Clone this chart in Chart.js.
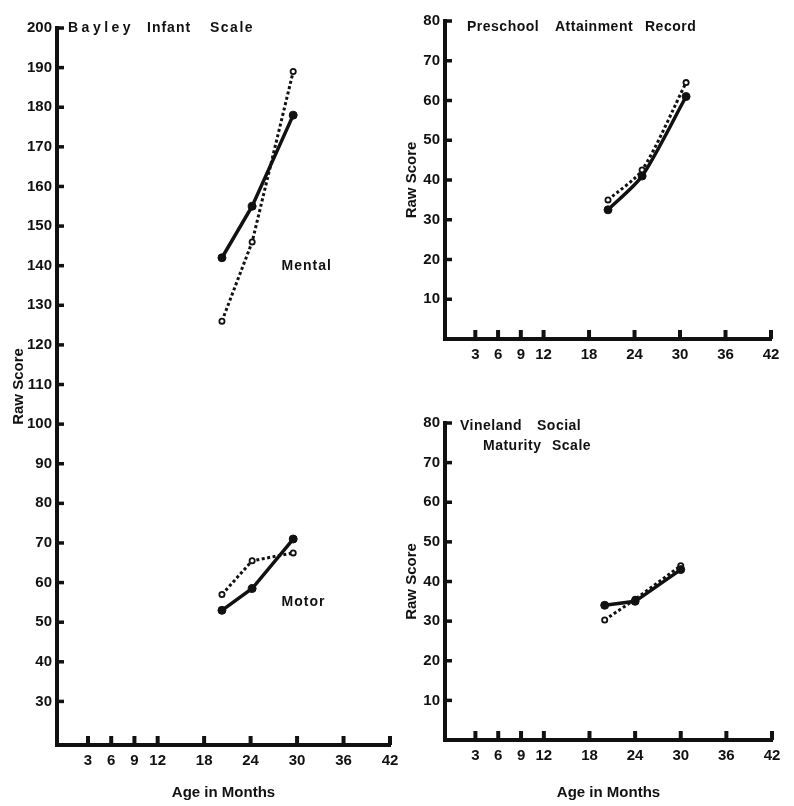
<!DOCTYPE html>
<html lang="en">
<head>
<meta charset="UTF-8">
<title>Raw Scores by Age in Months</title>
<script src="https://cdn.jsdelivr.net/npm/chart.js"></script>
<style>
  body { margin: 0; background: #fff; }
  #wrap { position: relative; width: 794px; height: 806px; }
  canvas { position: absolute; }
</style>
</head>
<body>
<div id="wrap">
  <canvas id="bayley" width="400" height="806" style="left:0;top:0"></canvas>
  <canvas id="preschool" width="394" height="380" style="left:400px;top:0"></canvas>
  <canvas id="vineland" width="394" height="416" style="left:400px;top:390px"></canvas>
</div>

<script>
// Tick labels
const ageTicks = [3, 6, 9, 12, 18, 24, 30, 36, 42];
const bayleyTicks = [30, 40, 50, 60, 70, 80, 90, 100, 110, 120, 130, 140, 150, 160, 170, 180, 190, 200];
const scoreTicks = [10, 20, 30, 40, 50, 60, 70, 80];

// Bayley Infant Scale (age in months, raw score)
const bayleyAges = [20.3, 24.2, 29.5];
const mentalSolid = [142, 155, 178];
const mentalDotted = [126, 146, 189];
const motorSolid = [53, 58.5, 71];
const motorDotted = [57, 65.5, 67.5];

// Preschool Attainment Record
const preschoolAges = [20.5, 25, 30.8];
const preschoolSolid = [32.5, 41, 61];
const preschoolDotted = [35, 42.5, 64.5];

// Vineland Social Maturity Scale
const vinelandAges = [20, 24, 30];
const vinelandSolid = [34, 35, 43];
const vinelandDotted = [30.3, 35.5, 44];

const ink = '#111';
const FONT = '"Liberation Sans", Arial, sans-serif';

function pts(ages, vals) {
    return ages.map((a, i) => ({ x: a, y: vals[i] }));
}

function solid(ages, vals, tension) {
    return {
        data: pts(ages, vals),
        borderColor: ink, borderWidth: 3.5, tension: tension || 0,
        pointRadius: 4, pointBackgroundColor: ink, pointBorderColor: ink, pointBorderWidth: 1
    };
}

function dotted(ages, vals, tension) {
    return {
        data: pts(ages, vals),
        borderColor: ink, borderWidth: 3, borderDash: [3, 2.5], tension: tension || 0,
        pointRadius: 2.6, pointBackgroundColor: '#fff', pointBorderColor: ink, pointBorderWidth: 1.8
    };
}

// inward tick marks plus free text (titles, curve names)
const panelArt = {
    id: 'panelArt',
    afterDraw(chart, args, opts) {
        const { ctx, chartArea: area, scales: { x, y } } = chart;
        ctx.save();
        ctx.strokeStyle = ink;
        ctx.lineCap = 'butt';
        ctx.lineWidth = 4;
        x.ticks.forEach(t => {
            const px = x.getPixelForValue(t.value);
            ctx.beginPath();
            ctx.moveTo(px, area.bottom);
            ctx.lineTo(px, area.bottom - 9);
            ctx.stroke();
        });
        ctx.lineWidth = 3.5;
        y.ticks.forEach(t => {
            const py = y.getPixelForValue(t.value);
            ctx.beginPath();
            ctx.moveTo(area.left, py);
            ctx.lineTo(area.left + 7, py);
            ctx.stroke();
        });
        ctx.fillStyle = ink;
        ctx.textBaseline = 'middle';
        ctx.textAlign = 'left';
        (opts.notes || []).forEach(n => {
            ctx.font = n.font || ('bold 14px ' + FONT);
            ctx.letterSpacing = n.spacing || '0.5px';
            const px = n.data ? x.getPixelForValue(n.x) : area.left + n.x;
            const py = n.data ? y.getPixelForValue(n.y) : area.top + n.y;
            ctx.fillText(n.text, px, py);
        });
        ctx.restore();
    }
};

function makeChart(id, cfg) {
    return new Chart(document.getElementById(id), {
        type: 'line',
        data: { datasets: cfg.datasets },
        options: {
            responsive: false,
            animation: false,
            layout: { padding: cfg.padding },
            plugins: {
                legend: { display: false },
                tooltip: { enabled: false },
                panelArt: { notes: cfg.notes }
            },
            scales: {
                x: {
                    type: 'linear', min: -1, max: 42,
                    afterBuildTicks: s => { s.ticks = ageTicks.map(v => ({ value: v })); },
                    afterFit: s => { s.height = cfg.xHeight; s.paddingRight = cfg.xPadRight; },
                    grid: { display: false, drawTicks: false },
                    border: { display: true, color: ink, width: 4 },
                    ticks: { color: ink, padding: 7, font: { family: FONT, size: 15, weight: 'bold' } },
                    title: {
                        display: !!cfg.xTitle, text: cfg.xTitle, color: ink,
                        padding: { top: 8 },
                        font: { family: FONT, size: 15, weight: 'bold' }
                    }
                },
                y: {
                    type: 'linear', min: cfg.yMin, max: cfg.yMax,
                    afterBuildTicks: s => { s.ticks = cfg.yTicks.map(v => ({ value: v })); },
                    afterFit: s => { s.width = cfg.yWidth; },
                    grid: { display: false, drawTicks: false },
                    border: { display: true, color: ink, width: 4 },
                    ticks: { color: ink, padding: 5, font: { family: FONT, size: 15, weight: 'bold' } },
                    title: {
                        display: true, text: 'Raw Score', color: ink,
                        padding: { top: cfg.yTitlePad, bottom: 0 },
                        font: { family: FONT, size: 15, weight: 'bold' }
                    }
                }
            }
        },
        plugins: [panelArt]
    });
}

makeChart('bayley', {
    datasets: [
        solid(bayleyAges, mentalSolid),
        dotted(bayleyAges, mentalDotted),
        solid(bayleyAges, motorSolid),
        dotted(bayleyAges, motorDotted)
    ],
    padding: { top: 28, right: 0, left: 0, bottom: 0 },
    yMin: 19, yMax: 200, yTicks: bayleyTicks,
    yWidth: 57, yTitlePad: 10, xHeight: 61, xPadRight: 10,
    xTitle: 'Age in Months',
    notes: [
        { text: 'Bayley', x: 11, y: 0, spacing: '3.5px' },
        { text: 'Infant', x: 90, y: 0, spacing: '1px' },
        { text: 'Scale', x: 153, y: 0, spacing: '1.5px' },
        { text: 'Mental', data: true, x: 28, y: 140, spacing: '1px' },
        { text: 'Motor', data: true, x: 28, y: 55, spacing: '1px' }
    ]
});

makeChart('preschool', {
    datasets: [
        solid(preschoolAges, preschoolSolid, 0.25),
        dotted(preschoolAges, preschoolDotted, 0.25)
    ],
    padding: { top: 21, right: 23, left: 0, bottom: 0 },
    yMin: 0, yMax: 80, yTicks: scoreTicks,
    yWidth: 45, yTitlePad: 3, xHeight: 41, xPadRight: 16,
    xTitle: '',
    notes: [
        { text: 'Preschool', x: 22, y: 6 },
        { text: 'Attainment', x: 110, y: 6 },
        { text: 'Record', x: 200, y: 6 }
    ]
});

makeChart('vineland', {
    datasets: [
        solid(vinelandAges, vinelandSolid),
        dotted(vinelandAges, vinelandDotted)
    ],
    padding: { top: 33, right: 22, left: 0, bottom: 0 },
    yMin: 0, yMax: 80, yTicks: scoreTicks,
    yWidth: 45, yTitlePad: 3, xHeight: 66, xPadRight: 16,
    xTitle: 'Age in Months',
    notes: [
        { text: 'Vineland', x: 15, y: 3 },
        { text: 'Social', x: 92, y: 3 },
        { text: 'Maturity', x: 38, y: 23 },
        { text: 'Scale', x: 107, y: 23 }
    ]
});
</script>
</body>
</html>
